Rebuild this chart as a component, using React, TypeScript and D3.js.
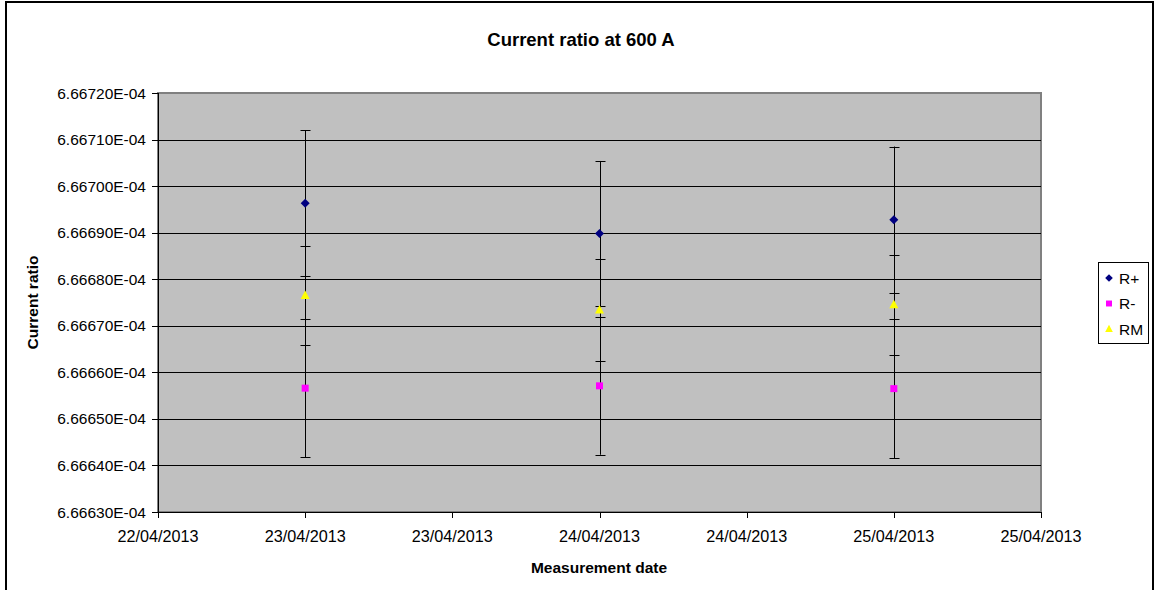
import React from "react";
import * as d3 from "d3";

const dates = ["2013-04-23", "2013-04-24", "2013-04-25"];
const rPlus = [6.666963e-4, 6.666898e-4, 6.666928e-4];
const rPlusErr = [1.57e-8, 1.56e-8, 1.57e-8];
const rMinus = [6.666566e-4, 6.666571e-4, 6.666565e-4];
const rMinusErr = [1.48e-8, 1.48e-8, 1.49e-8];
const rM = [6.666765e-4, 6.666734e-4, 6.666745e-4];
const rMErr = [1.07e-8, 1.09e-8, 1.07e-8];
const seriesNames = ["R+", "R-", "RM"];
const seriesColors = ["#000080", "#FF00FF", "#FFFF00"];
const yTickUnits = [666630, 666640, 666650, 666660, 666670, 666680, 666690, 666700, 666710, 666720];

const W = 1157;
const H = 590;
const plot = { left: 158, right: 1041, top: 93, bottom: 512 };
const FONT = "'Liberation Sans', Arial, sans-serif";

function parseDate(s: string) {
  const [y, m, d] = s.split("-").map(Number);
  return new Date(y, m - 1, d);
}

function fmtY(v: number) {
  const e = Math.floor(Math.log10(v) + 1e-12);
  const m = v / Math.pow(10, e);
  const sign = e < 0 ? "-" : "+";
  const ae = Math.abs(e);
  return `${m.toFixed(5)}E${sign}${ae < 10 ? "0" + ae : ae}`;
}

const diamond = "M0,-4.5L4.5,0L0,4.5L-4.5,0Z";
const square = "M-3.5,-3.5L3.5,-3.5L3.5,3.5L-3.5,3.5Z";
const triangle = "M0,-5L4.5,3.5L-4.5,3.5Z";
const shapes = [diamond, square, triangle];

export default function App() {
  const x = d3
    .scaleTime()
    .domain([new Date(2013, 3, 22, 12), new Date(2013, 3, 25, 12)])
    .range([plot.left, plot.right]);
  const y = d3.scaleLinear().domain([6.6663e-4, 6.6672e-4]).range([plot.bottom, plot.top]);
  const xTicks = x.ticks(d3.timeHour.every(12) as any);
  const fmtX = d3.timeFormat("%d/%m/%Y");
  const yTicks = yTickUnits.map((u) => u / 1e9);

  const series = [
    { vals: rPlus, errs: rPlusErr },
    { vals: rMinus, errs: rMinusErr },
    { vals: rM, errs: rMErr },
  ];

  const legendX = 1098, legendY = 262, legendW = 50, legendH = 81;

  return (
    <svg
      width={W}
      height={H}
      style={{ position: "absolute", left: 0, top: 0, background: "#fff" }}
      fontFamily={FONT}
    >
      <rect x={6} y={2} width={1147} height={H + 4} fill="#fff" stroke="#000" strokeWidth={2} />
      <text x={581} y={46} textAnchor="middle" fontSize={18.5} fontWeight="bold">
        Current ratio at 600 A
      </text>
      <rect
        x={plot.left}
        y={plot.top}
        width={plot.right - plot.left}
        height={plot.bottom - plot.top}
        fill="#C0C0C0"
        stroke="#808080"
        strokeWidth={2}
      />
      {yTicks.slice(1, -1).map((t, i) => (
        <line key={"g" + i} x1={plot.left} x2={plot.right} y1={Math.round(y(t)) + 0.5} y2={Math.round(y(t)) + 0.5} stroke="#000" />
      ))}
      <line x1={plot.left + 0.5} x2={plot.left + 0.5} y1={plot.top} y2={plot.bottom} stroke="#000" />
      <line x1={plot.left} x2={plot.right} y1={plot.bottom + 0.5} y2={plot.bottom + 0.5} stroke="#000" />
      {yTicks.map((t, i) => (
        <g key={"yt" + i}>
          <line x1={plot.left - 6} x2={plot.left} y1={Math.round(y(t)) + 0.5} y2={Math.round(y(t)) + 0.5} stroke="#000" />
          <text x={146} y={y(t) + 5.5} textAnchor="end" fontSize={15.5}>
            {fmtY(t)}
          </text>
        </g>
      ))}
      {xTicks.map((t, i) => (
        <g key={"xt" + i}>
          <line x1={Math.round(x(t)) + 0.5} x2={Math.round(x(t)) + 0.5} y1={plot.bottom} y2={plot.bottom + 6} stroke="#000" />
          <text x={x(t)} y={542} textAnchor="middle" fontSize={16.2}>
            {fmtX(t)}
          </text>
        </g>
      ))}
      <text x={599} y={573} textAnchor="middle" fontSize={15.5} fontWeight="bold">
        Measurement date
      </text>
      <text
        transform={`translate(38,${(plot.top + plot.bottom) / 2}) rotate(-90)`}
        textAnchor="middle"
        fontSize={15.5}
        fontWeight="bold"
      >
        Current ratio
      </text>
      {series.map((s, si) =>
        s.vals.map((v, i) => {
          const cx = Math.round(x(parseDate(dates[i]))) + 0.5;
          const y1 = y(v + s.errs[i]);
          const y2 = y(v - s.errs[i]);
          return (
            <g key={`e${si}-${i}`} stroke="#000" strokeWidth={1}>
              <line x1={cx} x2={cx} y1={y1} y2={y2} />
              <line x1={cx - 5} x2={cx + 5} y1={Math.round(y1) + 0.5} y2={Math.round(y1) + 0.5} />
              <line x1={cx - 5} x2={cx + 5} y1={Math.round(y2) + 0.5} y2={Math.round(y2) + 0.5} />
            </g>
          );
        })
      )}
      {series.map((s, si) =>
        s.vals.map((v, i) => (
          <path
            key={`m${si}-${i}`}
            d={shapes[si]}
            transform={`translate(${x(parseDate(dates[i]))},${y(v)})`}
            fill={seriesColors[si]}
          />
        ))
      )}
      <rect x={legendX + 0.5} y={legendY + 0.5} width={legendW} height={legendH} fill="#fff" stroke="#000" />
      {seriesNames.map((n, i) => {
        const ly = legendY + 16 + i * 25.5;
        return (
          <g key={"l" + i}>
            <path d={shapes[i]} transform={`translate(1109,${ly}) scale(0.85)`} fill={seriesColors[i]} />
            <text x={1119} y={ly + 5.5} fontSize={15.5}>
              {n}
            </text>
          </g>
        );
      })}
    </svg>
  );
}
